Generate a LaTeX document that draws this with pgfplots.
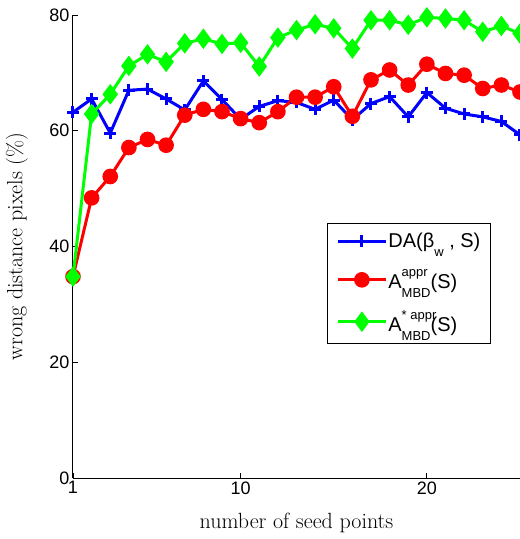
\documentclass[border=0pt]{standalone}
\usepackage{pgfplots}
\pgfplotsset{compat=1.18}
\usepackage{fontspec}
\newfontfamily\arial{Liberation Sans}
\newcommand\supsub[2]{\rlap{\raisebox{0.62em}{\fontsize{13}{13}\selectfont #1}}\raisebox{-0.42em}{\fontsize{13}{13}\selectfont #2}}
\begin{document}
\begin{tikzpicture}[x=1pt,y=1pt]
\begin{axis}[
  at={(73pt,61pt)}, anchor=south west,
  scale only axis, width=447pt, height=463pt,
  xmin=1, xmax=25, ymin=0, ymax=80,
  axis x line=bottom, axis y line=left,
  axis line style={-, line width=1pt},
  tick align=inside,
  major tick length=5pt,
  tick style={black, line width=0.8pt},
  xtick={1,10,20}, ytick={0,20,40,60,80},
  ticklabel style={font=\fontsize{18}{20}\selectfont\arial},
  /pgf/number format/assume math mode=true,
  xlabel={number of seed points},
  ylabel={wrong distance pixels (\%)},
  label style={font=\fontsize{22}{24}\selectfont, inner sep=0pt},
  xlabel style={at={(axis description cs:0.5,0)}, anchor=north, yshift=-35pt},
  ylabel style={at={(axis description cs:0,0.5)}, anchor=south, yshift=45pt},
  clip=false,
  legend style={at={(axis description cs:0.568,0.551)}, anchor=north west,
    draw=black, line width=1pt, font=\fontsize{20}{22}\selectfont\arial,
    row sep=18pt, inner xsep=9pt, inner ysep=9pt,
    nodes={inner sep=1pt}},
  legend cell align=left,
  legend image code/.code={
    \draw[#1] (0pt,0pt) -- (24pt,0pt);
    \draw[#1, only marks] plot coordinates {(24pt,0pt)};
    \draw[#1] (24pt,0pt) -- (48pt,0pt);
  },
]
\addplot[blue, line width=3pt, mark=+, mark size=6pt, mark options={line width=3pt}] coordinates {
(1,63.2)(2,65.5)(3,59.6)(4,67.0)(5,67.2)(6,65.5)(7,63.6)(8,68.6)(9,65.4)(10,62.0)
(11,64.2)(12,65.2)(13,64.9)(14,63.7)(15,65.3)(16,61.9)(17,64.7)(18,65.9)(19,62.4)(20,66.6)
(21,63.9)(22,62.9)(23,62.4)(24,61.6)(25,59.3)};
\addlegendentry{DA(β\raisebox{-0.42em}{\fontsize{13}{13}\selectfont w} , S)}
\addplot[red, line width=3pt, mark=*, mark size=6.3pt] coordinates {
(1,34.8)(2,48.4)(3,52.1)(4,57.1)(5,58.5)(6,57.5)(7,62.7)(8,63.7)(9,63.3)(10,62.1)
(11,61.4)(12,63.3)(13,65.8)(14,65.8)(15,67.6)(16,62.5)(17,68.8)(18,70.5)(19,67.9)(20,71.5)
(21,69.9)(22,69.6)(23,67.3)(24,67.9)(25,66.7)};
\addlegendentry{A\supsub{appr}{MBD}(S)}
\addplot[green, line width=3pt, mark=diamond*, mark size=7.8pt] coordinates {
(1,34.8)(2,62.9)(3,66.3)(4,71.2)(5,73.2)(6,71.9)(7,75.1)(8,75.9)(9,75.0)(10,75.2)
(11,71.1)(12,76.1)(13,77.4)(14,78.4)(15,77.7)(16,74.2)(17,79.1)(18,79.1)(19,78.3)(20,79.6)
(21,79.4)(22,79.1)(23,77.1)(24,78.1)(25,76.8)};
\addlegendentry{A\supsub{* appr}{MBD}(S)}
\end{axis}
\pgfresetboundingbox
\path (0,0) rectangle (520pt,539pt);
\end{tikzpicture}
\end{document}
